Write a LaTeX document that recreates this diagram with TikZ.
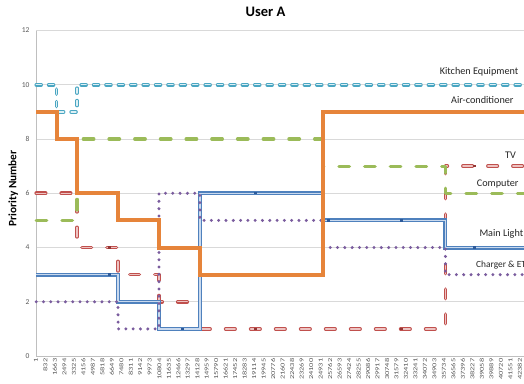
\documentclass[tikz,border=0pt]{standalone}
\usepackage{fontspec}
\setmainfont{Carlito}
\usepackage{graphicx}
\definecolor{gridc}{HTML}{D9D9D9}
\definecolor{axisc}{HTML}{BFBFBF}
\definecolor{kitc}{HTML}{4AA6C2}
\definecolor{kitl}{HTML}{DDF0F5}
\definecolor{orc}{HTML}{E6843A}
\definecolor{grc}{HTML}{9BBB59}
\definecolor{rdc}{HTML}{C0504D}
\definecolor{rdl}{HTML}{EDC3C2}
\definecolor{rdm}{HTML}{943634}
\definecolor{blc}{HTML}{4F81BD}
\definecolor{bll}{HTML}{C9D9EE}
\definecolor{blm}{HTML}{2C5A9A}
\definecolor{puc}{HTML}{7A5C9E}
\definecolor{tickc}{HTML}{595959}
\definecolor{labc}{HTML}{262626}
\tikzset{
  gridline/.style={draw=gridc, line width=0.9pt},
  axisline/.style={draw=axisc, line width=0.9pt},
  kitline/.style={draw=kitc, line width=1.1pt, double=kitl, double distance=1.3pt, line cap=round, line join=round, dash pattern=on 5pt off 7.4pt},
  redline/.style={draw=rdc, line width=1.1pt, double=rdl, double distance=1.4pt, line cap=round, line join=round, dash pattern=on 9.5pt off 15.5pt},
  greenline/.style={draw=grc, line width=3.3pt, line cap=round, line join=round, dash pattern=on 10.5pt off 15.2pt},
  blueline/.style={draw=blc, line width=1.3pt, double=bll, double distance=1.4pt, line join=miter},
  orangeline/.style={draw=orc, line width=4pt, line join=miter},
  purpleline/.style={draw=puc, line width=3.3pt, line cap=round, dash pattern=on 0pt off 7.3pt},
  xlab/.style={rotate=90, anchor=east, inner sep=0pt, text=tickc, font=\fontsize{6}{6}\selectfont},
  ylab/.style={anchor=east, inner sep=0pt, text=tickc, font=\fontsize{7.5}{8}\selectfont},
  serlab/.style={anchor=base west, inner sep=0pt, text=labc, font=\fontsize{10.2}{12}\selectfont},
}
\begin{document}
\begin{tikzpicture}[x=20.46pt, y=27.12pt]
\useasboundingbox[fill=white] (-36.2pt,-27pt) rectangle (487.8pt,356pt);
% grid and axes
\foreach \v in {2,4,...,12} \draw[gridline] (0,\v) -- (24,\v);
\draw[axisline] (0,0) -- (0,12);
\draw[axisline] (0,0) -- (24,0);
% y tick labels
\foreach \v in {0,2,...,12} \node[ylab] (yl\v) at ([xshift=-6.5pt]0,\v) {\v};
% x tick labels
\foreach \k in {0,...,51}{
  \edef\lab{\the\numexpr 1+831*\k\relax}
  \node[xlab] (xl\k) at ({\k*9.49pt-0.3pt},-2.5pt) {\scalebox{1.4}[1]{\lab}};
}
% series
\draw[kitline] (0,10) -- (1,10) -- (1,9) -- (2,9) -- (2,10) -- (24,10);
\draw[redline] (0,6) -- (2,6) -- (2,4) -- (4,4) -- (4,3) -- (6,3) -- (6,2) -- (8,2) -- (8,1) -- (20,1) -- (20,7) -- (24,7);
\draw[greenline] (0,5) -- (2,5) -- (2,8) -- (14,8) -- (14,7) -- (20,7) -- (20,6) -- (24,6);
\draw[blueline] (0,3) -- (4,3) -- (4,2) -- (6,2) -- (6,1) -- (8,1) -- (8,6) -- (14,6) -- (14,5) -- (20,5) -- (20,4) -- (24,4);
\foreach \h/\v in {3.57/3, 7.14/1, 10.71/6, 14.28/5, 17.85/5, 21.42/4}
  \fill[blm] ([shift={(-1.3pt,-1.2pt)}]\h,\v) rectangle ++(2.6pt,2.4pt);
\foreach \h/\v in {3.57/4, 10.71/1, 17.85/1, 21.42/7}
  \fill[rdm] ([shift={(-1.3pt,-1.2pt)}]\h,\v) rectangle ++(2.6pt,2.4pt);
\draw[purpleline] (0,2) -- (4,2) -- (4,1) -- (6,1) -- (6,6) -- (8,6) -- (8,5) -- (14,5) -- (14,4) -- (20,4) -- (20,3) -- (24,3);
\draw[orangeline] (0,9) -- (1,9) -- (1,8) -- (2,8) -- (2,6) -- (4,6) -- (4,5) -- (6,5) -- (6,4) -- (8,4) -- (8,3) -- (14,3) -- (14,9) -- (24,9);
% titles
\node[anchor=base, inner sep=0pt, font=\fontsize{14.5}{16}\selectfont\bfseries] (title) at (229.3pt,339.3pt) {User A};
\node[rotate=90, anchor=base, inner sep=0pt, font=\fontsize{11.3}{12}\selectfont\bfseries] (ytitle) at (-19.9pt,167.7pt) {Priority Number};
% series labels
\node[serlab] (lkit) at (403.4pt,281pt) {Kitchen Equipment};
\node[serlab] (lair) at (414.8pt,252pt) {Air-conditioner};
\node[serlab] (ltv) at (468.8pt,197.7pt) {TV};
\node[serlab] (lcomp) at (440.5pt,169.3pt) {Computer};
\node[serlab] (lmain) at (443.1pt,119.3pt) {Main Light};
\node[serlab, font=\fontsize{9.4}{11}\selectfont] (lchg) at (439.8pt,88.7pt) {Charger \& ETC};
\end{tikzpicture}
\end{document}
